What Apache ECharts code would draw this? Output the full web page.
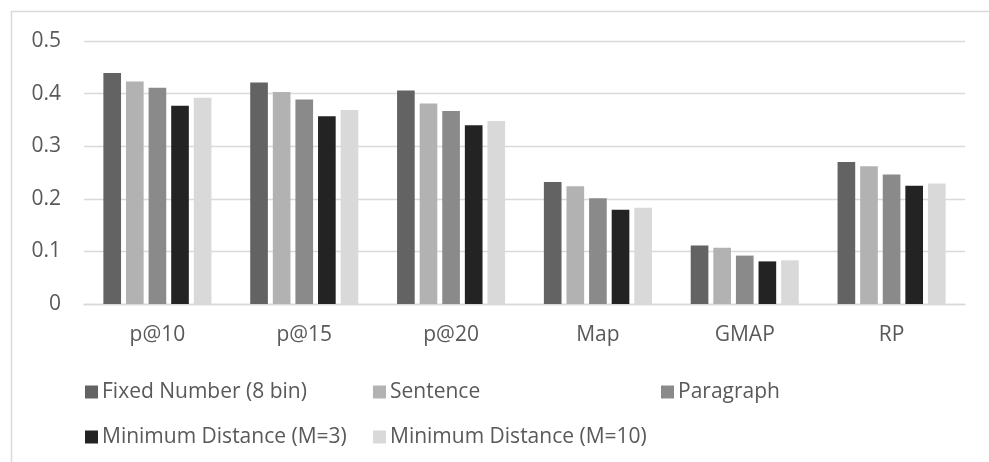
<!DOCTYPE html>
<html>
<head>
<meta charset="utf-8">
<style>
  html, body { margin: 0; padding: 0; background: #ffffff; }
  #chart { width: 989px; height: 462px; }
</style>
<script src="https://cdn.jsdelivr.net/npm/echarts@6/dist/echarts.min.js"></script>
</head>
<body>
<div id="chart"></div>
<script>
const categories = ['p@10', 'p@15', 'p@20', 'Map', 'GMAP', 'RP'];
const seriesNames = ['Fixed Number (8 bin)', 'Sentence', 'Paragraph', 'Minimum Distance (M=3)', 'Minimum Distance (M=10)'];
const fixedNumber = [0.439, 0.421, 0.406, 0.232, 0.111, 0.270];
const sentence    = [0.423, 0.403, 0.381, 0.224, 0.107, 0.262];
const paragraph   = [0.411, 0.389, 0.367, 0.201, 0.092, 0.246];
const minDist3    = [0.377, 0.357, 0.340, 0.179, 0.081, 0.225];
const minDist10   = [0.392, 0.369, 0.348, 0.183, 0.083, 0.229];
const yTicks = [0, 0.1, 0.2, 0.3, 0.4, 0.5];

const seriesValues = [fixedNumber, sentence, paragraph, minDist3, minDist10];
const colors = ['#636363', '#b2b2b2', '#8a8a8a', '#232323', '#d9d9d9'];
const FONT = '"Open Sans"';
const TXT = '#595959';

const chart = echarts.init(document.getElementById('chart'), null, { renderer: 'canvas' });
chart.setOption({
  animation: false,
  backgroundColor: '#ffffff',
  color: colors,
  graphic: [{
    type: 'rect',
    shape: { x: 11.5, y: 11.5, width: 1100, height: 600 },
    style: { fill: 'none', stroke: '#d9d9d9', lineWidth: 1.5 },
    silent: true
  }],
  grid: { left: 84, right: 24, top: 41, bottom: 158 },
  legend: {
    left: 80,
    top: 367,
    width: 890,
    itemWidth: 13,
    itemHeight: 13,
    itemGap: 5,
    icon: 'rect',
    data: seriesNames,
    textStyle: {
      fontFamily: FONT, fontSize: 21, color: TXT,
      width: 266, lineHeight: 40, padding: [0, 0, 0, -1]
    }
  },
  xAxis: {
    type: 'category',
    data: categories,
    axisLine: { lineStyle: { color: '#d9d9d9', width: 1.3 } },
    axisTick: { show: false },
    axisLabel: { fontFamily: FONT, fontSize: 21, color: TXT, margin: 21 }
  },
  yAxis: {
    type: 'value',
    min: yTicks[0],
    max: yTicks[yTicks.length - 1],
    interval: 0.1,
    axisLine: { show: false },
    axisTick: { show: false },
    splitLine: { lineStyle: { color: '#d9d9d9', width: 1.3 } },
    axisLabel: {
      fontFamily: FONT, fontSize: 21, color: TXT, margin: 23,
      formatter: v => String(Math.round(v * 10) / 10)
    }
  },
  series: seriesNames.map((name, i) => ({
    name,
    type: 'bar',
    data: seriesValues[i],
    barGap: '28%',
    barCategoryGap: '26.4%',
    itemStyle: { color: colors[i] }
  }))
});
</script>
</body>
</html>
